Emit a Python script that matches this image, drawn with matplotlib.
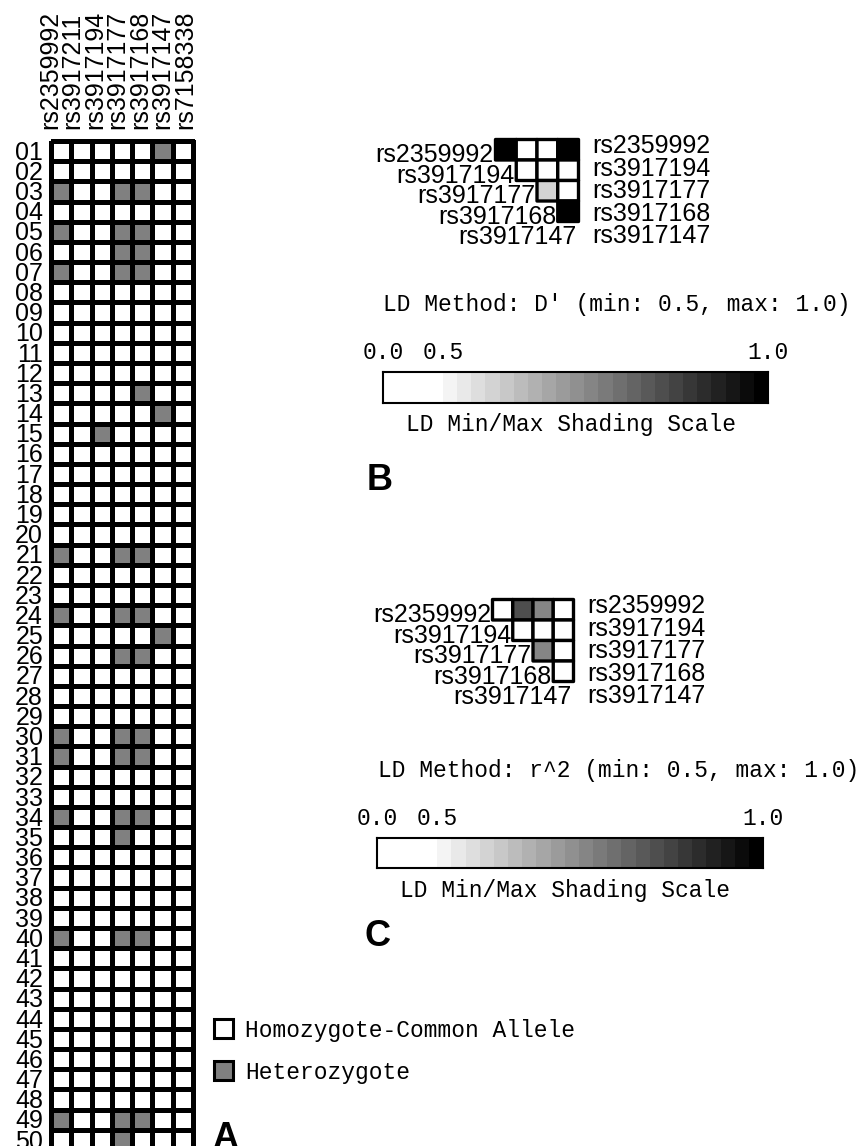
import numpy as np
import matplotlib.pyplot as plt
from matplotlib.colors import ListedColormap, BoundaryNorm
from matplotlib.patches import Rectangle

W, H = 867, 1146
SANS = "Liberation Sans"
MONO = "Liberation Mono"

# panel A: genotypes, 1 = heterozygote, 0 = homozygote common allele
geno_markers = ["rs2359992", "rs3917211", "rs3917194", "rs3917177",
                "rs3917168", "rs3917147", "rs7158338"]
genotypes = [
    "0000010", "0000000", "1001100", "0000000", "1001100",  # 01-05
    "0001100", "1001100", "0000000", "0000000", "0000000",  # 06-10
    "0000000", "0000000", "0000100", "0000010", "0010000",  # 11-15
    "0000000", "0000000", "0000000", "0000000", "0000000",  # 16-20
    "1001100", "0000000", "0000000", "1001100", "0000010",  # 21-25
    "0001100", "0000000", "0000000", "0000000", "1001100",  # 26-30
    "1001100", "0000000", "0000000", "1001100", "0001000",  # 31-35
    "0000000", "0000000", "0000000", "0000000", "1001100",  # 36-40
    "0000000", "0000000", "0000000", "0000000", "0000000",  # 41-45
    "0000000", "0000000", "0000000", "1001100", "0001000",  # 46-50
]
sample_ids = [f"{i + 1:02d}" for i in range(len(genotypes))]
legend_labels = ["Homozygote-Common Allele", "Heterozygote"]

# panels B and C: pairwise LD (row marker i vs column marker j+1)
ld_markers = ["rs2359992", "rs3917194", "rs3917177", "rs3917168", "rs3917147"]
nan = np.nan
dprime = [
    [1.00, 0.30, 0.30, 1.00],
    [nan, 0.30, 0.30, 0.30],
    [nan, nan, 0.58, 0.30],
    [nan, nan, nan, 1.00],
]
r2 = [
    [0.30, 0.83, 0.73, 0.30],
    [nan, 0.30, 0.30, 0.30],
    [nan, nan, 0.73, 0.30],
    [nan, nan, nan, 0.30],
]
ld_min, ld_max = 0.5, 1.0
n_steps = 23

# shading scale: white below min, then stepped greys up to black
bounds = [0.0, ld_min] + [ld_min + (ld_max - ld_min) * (k + 1) / n_steps for k in range(n_steps)]
shades = ["white"] + [str(round(1 - (k + 1) / n_steps, 3)) for k in range(n_steps)]
ld_cmap = ListedColormap(shades)
ld_norm = BoundaryNorm(bounds, ld_cmap.N)

fig = plt.figure(figsize=(W / 100, H / 100), dpi=100)
bg = fig.add_axes([0, 0, 1, 1])
bg.set_xlim(0, W)
bg.set_ylim(H, 0)
bg.axis("off")


def px_axes(x0, y0, x1, y1):
    return fig.add_axes([x0 / W, 1 - y1 / H, (x1 - x0) / W, (y1 - y0) / H])


# ---- A: genotype grid
geno = np.array([[int(c) for c in row] for row in genotypes])
ax_g = px_axes(51, 141, 193, 1150)
mesh = ax_g.pcolormesh(geno, cmap=ListedColormap(["white", "#808080"]), vmin=0, vmax=1,
                       edgecolors="black", linewidth=2.4)
mesh.set_clip_on(False)
ax_g.set_xlim(0, len(geno_markers))
ax_g.set_ylim(len(genotypes), 0)
ax_g.axis("off")
for i, sid in enumerate(sample_ids):
    ax_g.text(-0.39, i + 0.93, sid, ha="right", va="baseline", family=SANS,
              fontsize=18, clip_on=False)
for k, name in enumerate(geno_markers):
    bg.text(50 + 22.5 * k, 129, name, rotation=90, ha="center", va="bottom",
            family=SANS, fontsize=18)

# legend
for (y0, fc), lab in zip([(1019, "white"), (1061, "#808080")], legend_labels):
    bg.add_patch(Rectangle((214, y0), 19, 19, facecolor=fc, edgecolor="black", lw=2.2))
    bg.text(245, y0 + 11, lab, ha="left", va="center", family=MONO, fontsize=16.5)
bg.text(225, 1139, "A", ha="center", va="center", family=SANS, fontsize=26, weight="bold")


def fwd(v):
    v = np.asarray(v, dtype=float)
    return np.where(v < ld_min, v / ld_min * 0.156, 0.156 + (v - ld_min) / (ld_max - ld_min) * 0.844)


def inv(u):
    u = np.asarray(u, dtype=float)
    return np.where(u < 0.156, u / 0.156 * ld_min, ld_min + (u - 0.156) / 0.844 * (ld_max - ld_min))


def ld_panel(values, tri_box, method, title_xy, bar_box, letter, letter_xy):
    x0, y0, x1, y1 = tri_box
    ax = px_axes(x0, y0, x1, y1)
    coll = ax.pcolor(np.ma.masked_invalid(np.array(values)), cmap=ld_cmap, norm=ld_norm,
                     edgecolors="black", linewidth=2.4)
    coll.set_clip_on(False)
    ax.set_xlim(0, 4)
    ax.set_ylim(4, 0)
    ax.axis("off")
    for i, name in enumerate(ld_markers):
        ax.text(min(i, 4) - 0.08, i + 1.1, name, ha="right", va="baseline",
                family=SANS, fontsize=18, clip_on=False)
        ax.text(4.68, 0.66 + 1.1 * i, name, ha="left", va="baseline",
                family=SANS, fontsize=18, clip_on=False)

    bg.text(title_xy[0], title_xy[1], f"LD Method: {method} (min: {ld_min}, max: {ld_max})",
            ha="left", va="center", family=MONO, fontsize=16.5)

    bx0, by0, bx1, by1 = bar_box
    axb = px_axes(bx0, by0, bx1, by1)
    axb.set_xscale("function", functions=(fwd, inv))
    mids = [(a + b) / 2 for a, b in zip(bounds[:-1], bounds[1:])]
    axb.pcolormesh(bounds, [0, 1], [mids], cmap=ld_cmap, norm=ld_norm)
    axb.set_xlim(0, 1)
    axb.set_ylim(0, 1)
    axb.set_yticks([])
    axb.set_xticks([0.0, 0.5, 1.0], ["0.0", "0.5", "1.0"], family=MONO, fontsize=16.5)
    axb.tick_params(axis="x", top=True, labeltop=True, bottom=False, labelbottom=False,
                    length=0, pad=6)
    for sp in axb.spines.values():
        sp.set_linewidth(1.5)
    bg.text((bx0 + bx1) / 2 - 5, by1 + 22, "LD Min/Max Shading Scale", ha="center",
            va="center", family=MONO, fontsize=16.5)
    bg.text(letter_xy[0], letter_xy[1], letter, ha="center", va="center",
            family=SANS, fontsize=26, weight="bold")


ld_panel(dprime, (495.5, 139.5, 578.5, 221.5), "D'", (383, 304),
         (383, 372, 768, 403), "B", (380, 481))
ld_panel(r2, (492.5, 599.5, 573.5, 681.5), "r^2", (378, 770),
         (377, 838, 763, 868), "C", (378, 937))

fig.savefig("out.png", dpi=100)
